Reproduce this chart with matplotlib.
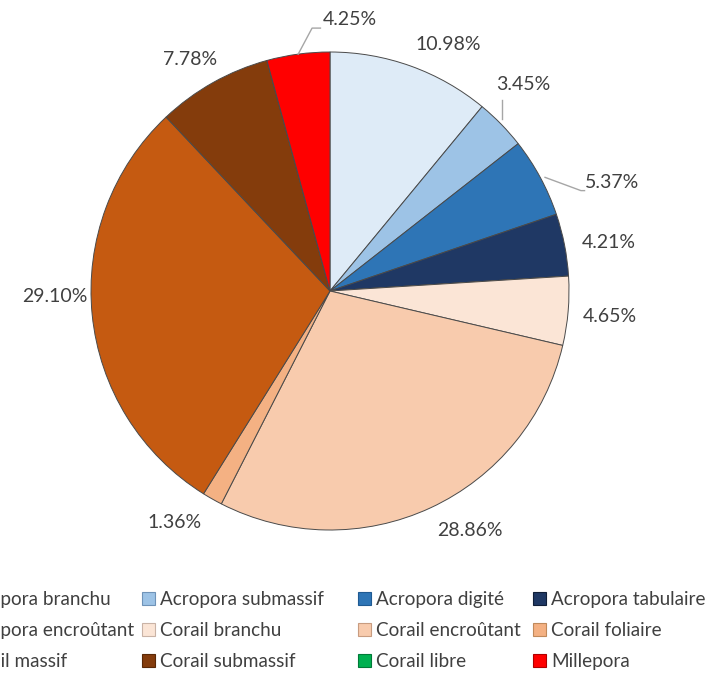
import numpy as np
import matplotlib
matplotlib.use("Agg")
import matplotlib.pyplot as plt
from matplotlib.patches import Patch

plt.rcParams['font.family'] = ['Lato', 'DejaVu Sans']

# coral cover by growth form (% of total)
categories = ['Acropora branchu', 'Acropora submassif', 'Acropora digité',
              'Acropora tabulaire', 'Acropora encroûtant', 'Corail branchu',
              'Corail encroûtant', 'Corail foliaire', 'Corail massif',
              'Corail submassif', 'Corail libre', 'Millepora']
values = [10.98, 3.45, 5.37, 4.21, 0.0, 4.65, 28.86, 1.36, 29.10, 7.78, 0.0, 4.25]
colors = ['#DEEBF7', '#9DC3E6', '#2E75B6', '#1F3864', '#8FAADC', '#FBE5D6',
          '#F8CBAD', '#F4B183', '#C55A11', '#843C0C', '#00B050', '#FF0000']
edges = ['#9DB3C8', '#6F93B8', '#1F5A92', '#101E38', '#6A86B8', '#C9B3A6',
         '#C89C80', '#C08A5C', '#8E3E08', '#5A2806', '#007A38', '#B00000']

# where each percentage sits, in pie-radius units (None = no label)
label_pos = [(0.494, 1.033), (0.808, 0.862), (1.180, 0.452), (1.167, 0.205), None,
             (1.172, -0.105), (0.586, -1.004), (-0.649, -0.967), (-1.151, -0.025),
             (-0.586, 0.967), None, (0.085, 1.134)]

W, H = 708, 677
cx, cy, R = 330, 291, 239  # pie centre and radius in pixels

fig = plt.figure(figsize=(W / 100, H / 100), dpi=100)
ax = fig.add_axes([0, 0, 1, 1])

wedges, _ = ax.pie(values, colors=colors, startangle=90, counterclock=False,
                   radius=1, wedgeprops=dict(edgecolor='#4a4a4a', linewidth=0.7))
ax.set_xlim(-cx / R, (W - cx) / R)
ax.set_ylim(-(H - cy) / R, cy / R)
ax.set_aspect('equal')
ax.axis('off')

txt = '#404040'
line = '#A6A6A6'
for w, v, pos in zip(wedges, values, label_pos):
    if pos is None or v == 0:
        continue
    ax.text(pos[0], pos[1], f'{v:.2f}%', ha='center', va='center',
            fontsize=14, color=txt)

# leader lines for the labels pulled away from their slices
def edge_point(w):
    a = np.deg2rad((w.theta1 + w.theta2) / 2)
    return np.cos(a), np.sin(a)

ex, ey = edge_point(wedges[11])
ax.plot([ex, -0.075, -0.040], [ey, 1.100, 1.100], color=line, lw=1)
ax.plot([0.72, 0.72], [0.72, 0.80], color=line, lw=1)
ex, ey = edge_point(wedges[2])
ax.plot([ex + 0.02, 1.05, 1.065], [ey, 0.42, 0.42], color=line, lw=1)

# legend: one column of three entries per block, four blocks side by side
ncol = 4
col_x = [-57, 142, 358, 533]
for c in range(ncol):
    idx = [r * ncol + c for r in range(3)]
    handles = [Patch(facecolor=colors[i], edgecolor=edges[i], linewidth=0.8) for i in idx]
    fig.legend(handles, [categories[i] for i in idx], loc='upper left',
               bbox_to_anchor=(col_x[c] / W, (H - 591) / H), frameon=False,
               fontsize=13.6, handlelength=0.7, handleheight=0.7,
               handletextpad=0.25, labelspacing=0.75,
               borderpad=0, borderaxespad=0, labelcolor=txt)

fig.savefig('out.png', dpi=100)
